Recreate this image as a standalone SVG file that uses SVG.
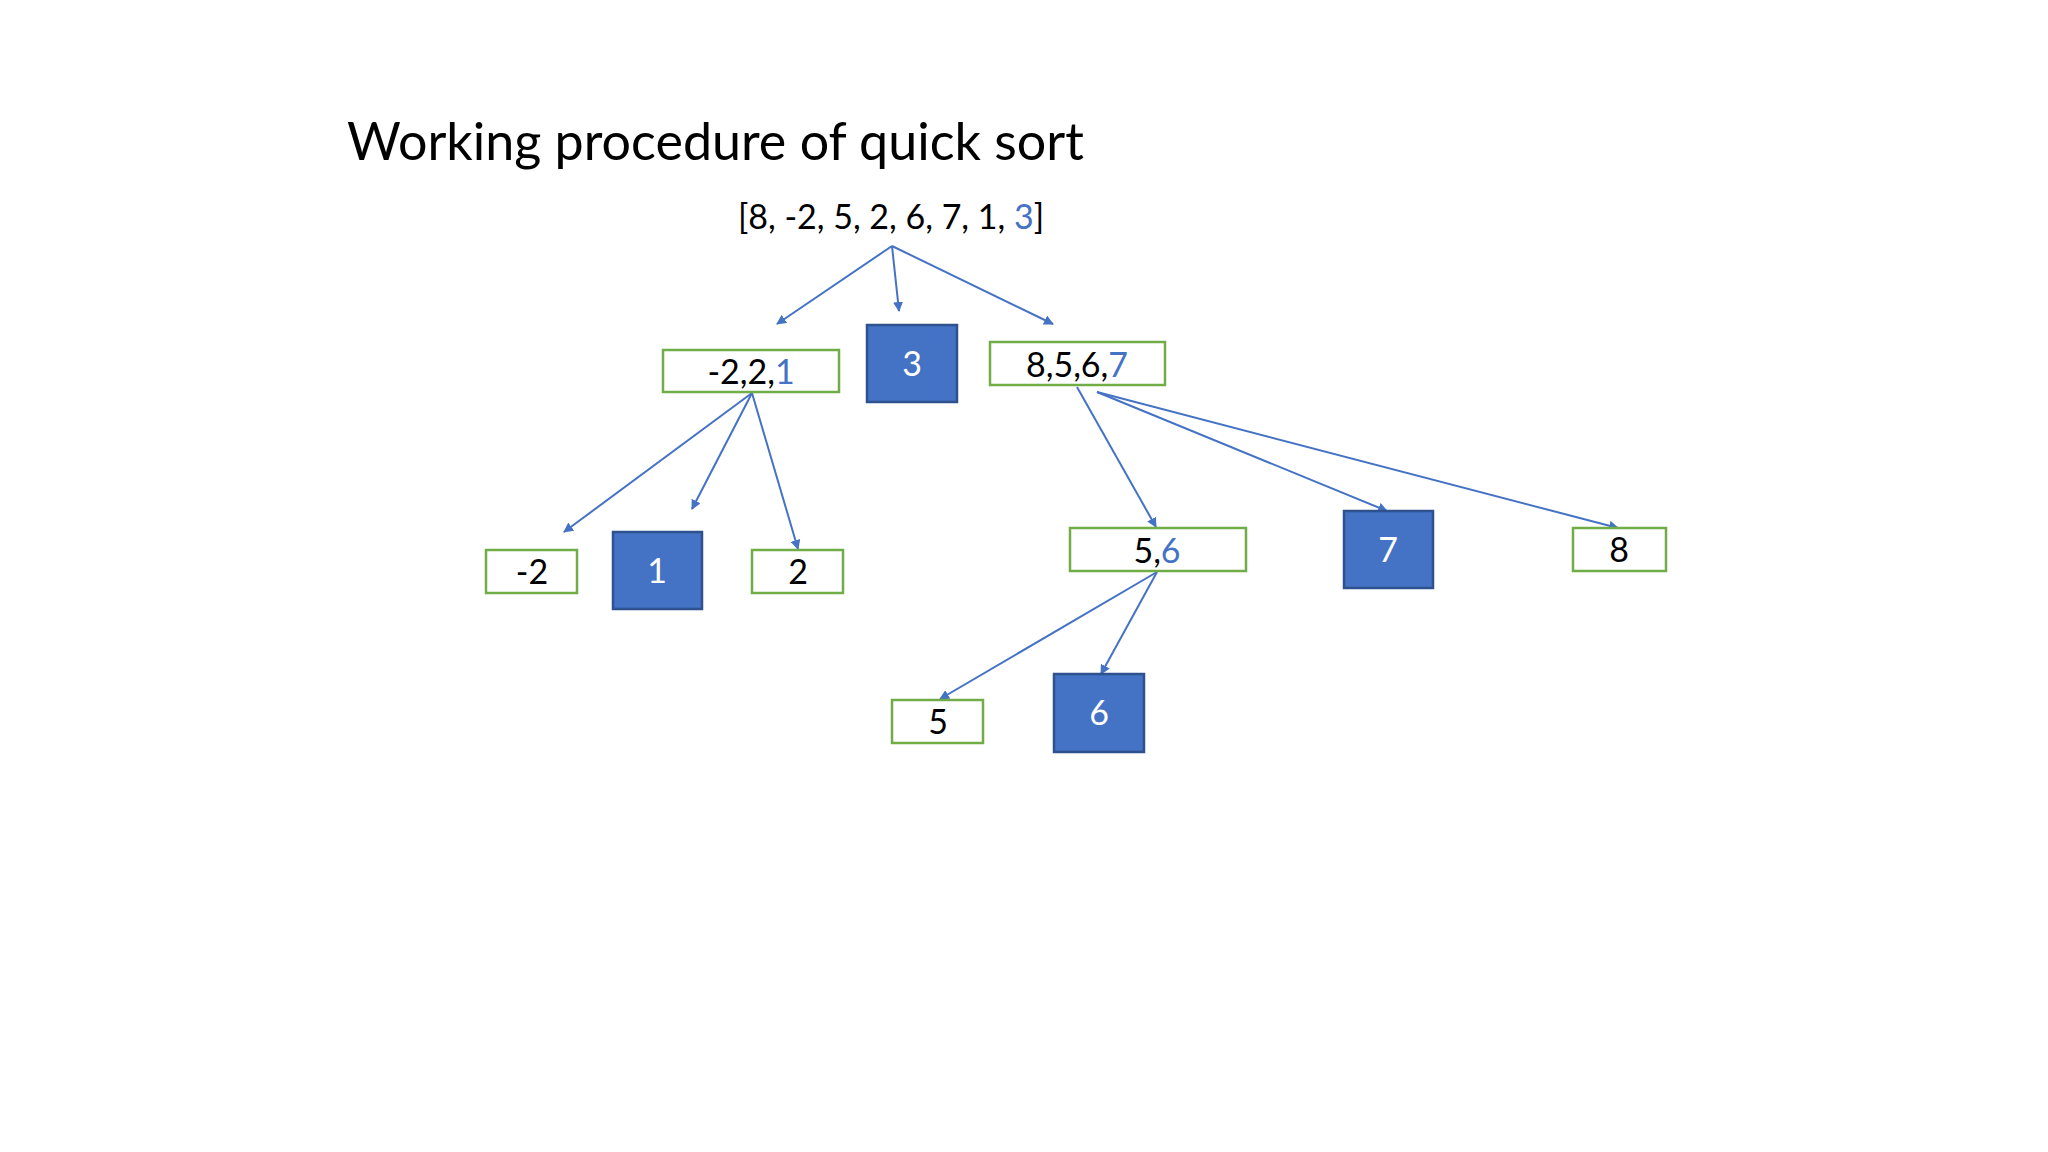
<svg xmlns="http://www.w3.org/2000/svg" width="2048" height="1152" viewBox="0 0 2048 1152">
<style>
text{font-family:Lato,"Open Sans","Liberation Sans",sans-serif;font-size:34px;fill:#000;text-anchor:middle}
.g{fill:#fff;stroke:#70AD47;stroke-width:2.5}
.b{fill:#4472C4;stroke:#2F528F;stroke-width:2.5}
.w{fill:#fff}
.p{fill:#4472C4}
#connectors line{stroke:#4472C4;stroke-width:2;marker-end:url(#ah)}
</style>
<defs><marker id="ah" viewBox="0 0 10 10" refX="9" refY="5" markerWidth="5" markerHeight="5" orient="auto"><path d="M0,0L10,5L0,10z" fill="#4472C4"/></marker></defs>
<rect width="2048" height="1152" fill="#fff"/>
<text x="347" y="160" style="text-anchor:start;font-size:52px">Working procedure of quick sort</text>
<g id="root"><text x="891" y="229">[8, -2, 5, 2, 6, 7, 1, <tspan class="p">3</tspan>]</text></g>
<g id="connectors">
<line x1="892" y1="246" x2="777" y2="324"/>
<line x1="892" y1="246" x2="899" y2="311"/>
<line x1="892" y1="246" x2="1053" y2="324"/>
<line x1="752" y1="393" x2="564" y2="532"/>
<line x1="752" y1="393" x2="692" y2="509"/>
<line x1="752" y1="393" x2="798" y2="549"/>
<line x1="1077" y1="387" x2="1156" y2="527"/>
<line x1="1097" y1="392" x2="1387" y2="511"/>
<line x1="1097" y1="392" x2="1618" y2="528"/>
<line x1="1157" y1="572" x2="940" y2="699"/>
<line x1="1157" y1="572" x2="1101" y2="674"/>
</g>
<g id="n221"><rect class="g" x="663" y="350" width="176" height="42"/><text x="751" y="384">-2,2,<tspan class="p">1</tspan></text></g>
<g id="n3"><rect class="b" x="867" y="325" width="90" height="77"/><text class="w" x="912" y="376">3</text></g>
<g id="n8567"><rect class="g" x="990" y="342" width="175" height="43"/><text x="1077" y="377">8,5,6,<tspan class="p">7</tspan></text></g>
<g id="nm2"><rect class="g" x="486" y="550" width="91" height="43"/><text x="532" y="584">-2</text></g>
<g id="n1"><rect class="b" x="613" y="532" width="89" height="77"/><text class="w" x="657" y="583">1</text></g>
<g id="n2"><rect class="g" x="752" y="550" width="91" height="43"/><text x="798" y="584">2</text></g>
<g id="n56"><rect class="g" x="1070" y="528" width="176" height="43"/><text x="1157" y="563">5,<tspan class="p">6</tspan></text></g>
<g id="n7"><rect class="b" x="1344" y="511" width="89" height="77"/><text class="w" x="1388" y="562">7</text></g>
<g id="n8"><rect class="g" x="1573" y="528" width="93" height="43"/><text x="1619" y="562">8</text></g>
<g id="n5"><rect class="g" x="892" y="700" width="91" height="43"/><text x="938" y="734">5</text></g>
<g id="n6"><rect class="b" x="1054" y="674" width="90" height="78"/><text class="w" x="1099" y="725">6</text></g>
</svg>
